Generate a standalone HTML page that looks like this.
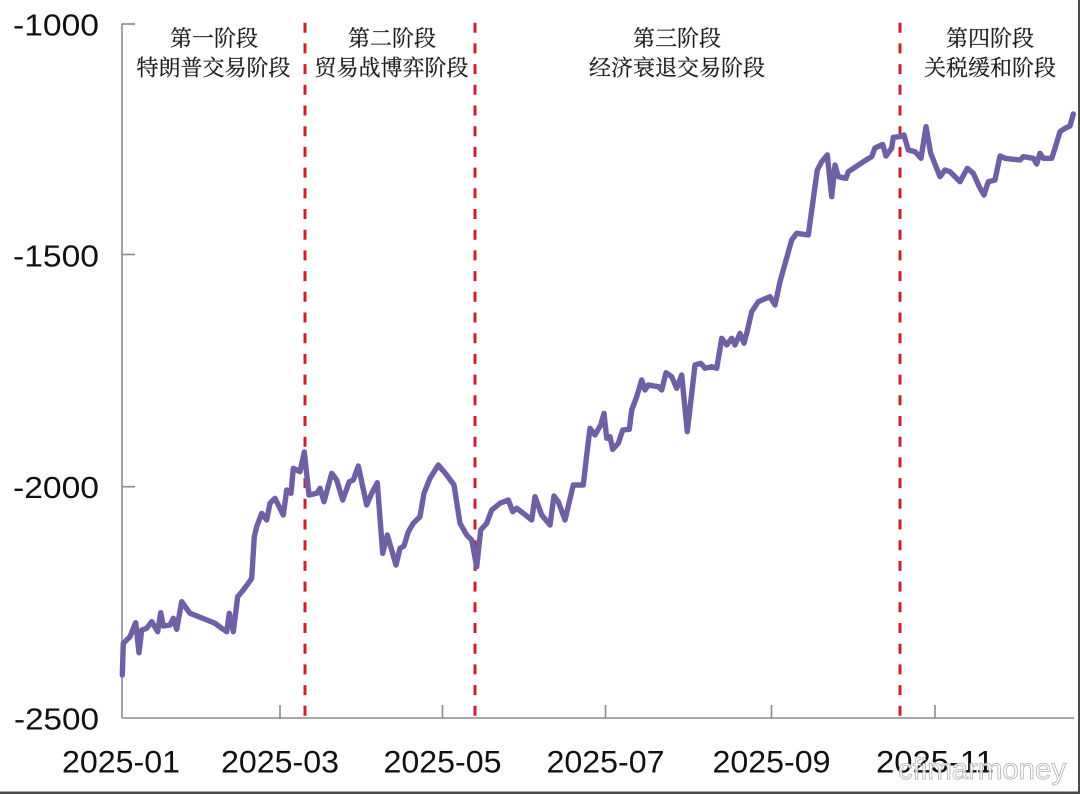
<!DOCTYPE html>
<html>
<head>
<meta charset="utf-8">
<style>
  html,body{margin:0;padding:0;background:#fff;}
  svg{display:block;}
</style>
</head>
<body>
<svg width="1080" height="794" viewBox="0 0 1080 794" xmlns="http://www.w3.org/2000/svg">
  <rect x="0" y="0" width="1080" height="794" fill="#ffffff"/>

  <!-- axes -->
  <g stroke="#8a8a8a" stroke-width="1.6" fill="none">
    <line x1="122" y1="23.5" x2="122" y2="718"/>
    <line x1="122" y1="718" x2="1074" y2="718"/>
    <line x1="122" y1="24" x2="135" y2="24"/>
    <line x1="122" y1="254.5" x2="135" y2="254.5"/>
    <line x1="122" y1="486.7" x2="135" y2="486.7"/>
    <line x1="280" y1="718" x2="280" y2="705"/>
    <line x1="442.5" y1="718" x2="442.5" y2="705"/>
    <line x1="605.5" y1="718" x2="605.5" y2="705"/>
    <line x1="771.5" y1="718" x2="771.5" y2="705"/>
    <line x1="935" y1="718" x2="935" y2="705"/>
  </g>

  <!-- y labels -->
  <g font-family="'Liberation Sans', Arial, sans-serif" font-size="31" fill="#111" text-anchor="end">
    <text x="99" y="35.5" textLength="86" lengthAdjust="spacingAndGlyphs">-1000</text>
    <text x="99" y="266.5" textLength="86" lengthAdjust="spacingAndGlyphs">-1500</text>
    <text x="99" y="498" textLength="86" lengthAdjust="spacingAndGlyphs">-2000</text>
    <text x="99" y="729.5" textLength="85" lengthAdjust="spacingAndGlyphs">-2500</text>
  </g>

  <!-- x labels -->
  <g font-family="'Liberation Sans', Arial, sans-serif" font-size="31.5" fill="#111" text-anchor="middle">
    <text x="121" y="772.5" textLength="118" lengthAdjust="spacingAndGlyphs">2025-01</text>
    <text x="280" y="772.5" textLength="118" lengthAdjust="spacingAndGlyphs">2025-03</text>
    <text x="442.5" y="772.5" textLength="118" lengthAdjust="spacingAndGlyphs">2025-05</text>
    <text x="605.5" y="772.5" textLength="118" lengthAdjust="spacingAndGlyphs">2025-07</text>
    <text x="771.5" y="772.5" textLength="118" lengthAdjust="spacingAndGlyphs">2025-09</text>
    <text x="935" y="772.5" textLength="118" lengthAdjust="spacingAndGlyphs">2025-11</text>
  </g>

  <!-- stage dividers -->
  <g stroke="#c8232c" stroke-width="3" stroke-dasharray="10 10.7" fill="none">
    <line x1="305" y1="22.7" x2="305" y2="718"/>
    <line x1="475" y1="22.7" x2="475" y2="718"/>
    <line x1="900" y1="22.7" x2="900" y2="718"/>
  </g>

  <!-- stage labels -->
  <g font-family="'Liberation Serif', 'Noto Serif CJK SC', serif" font-size="22" fill="#1e1e1e" text-anchor="middle" stroke="#1e1e1e" stroke-width="0.25">
    <text x="214" y="46">第一阶段</text>
    <text x="213.5" y="75.5">特朗普交易阶段</text>
    <text x="392" y="46">第二阶段</text>
    <text x="391.5" y="75.5">贸易战博弈阶段</text>
    <text x="677" y="46">第三阶段</text>
    <text x="677" y="75.5">经济衰退交易阶段</text>
    <text x="990" y="46">第四阶段</text>
    <text x="990" y="75.5">关税缓和阶段</text>
  </g>

  <!-- series -->
  <polyline fill="none" stroke="#6f60a6" stroke-width="5.4" stroke-linejoin="round" stroke-linecap="round"
    points="122.3,675 123.3,643.3 130,636.7 135.7,622.7 139,652.7 141.7,630 146.7,628.3 151.7,621.7 157.7,631.7 160.7,612.7 163.3,626 170,625 173.3,618.3 176.7,629.3 181.7,601.7 190,613.3 215,623.3 221.7,628.3 226.7,631.7 229.3,613.3 233.3,631.7 237.7,596.7 243.3,590 248.3,583.3 251.7,578.3 254.3,536.7 256.7,526.7 261.7,513.3 266.7,520 270,503.3 275,498.3 283.3,515 286.7,490 291,493.3 293.3,468.3 300,471.7 304.3,452 309,495 316.7,493.3 320,488.3 324,501.7 331.7,473.3 336.7,480 342.7,500 349.3,481.7 353.3,480 358.3,466 366.7,505 371.7,493.3 377.3,482.7 382.7,553.3 387.3,535 396,565 400,548.3 404,546 408.3,531.7 413.3,523.3 420,516.7 424,493.3 430,478.3 438.3,465 446.7,475 454,485 460,523.3 466.7,535 471.7,540 476.7,566.7 480.7,530 486.7,523.3 491.7,510 500,503.3 508.3,500 512.7,511.7 516.7,508.3 523.3,513.3 531.7,520 535,496.7 541.7,515 550,525 554,496 558.3,501.7 565,520 573.3,485 583.3,485 586.7,455 590,428.3 595,435 600.7,425 604,413.3 606.7,438.3 610,436.7 612.7,449.3 618.3,443.3 622.7,430 629.3,429.3 631.7,410 636.7,396.7 641.7,380 645,390 648.3,385 658.3,386.7 661.7,390 666,372.7 671.7,376.7 676.7,388.3 681.7,375 687.3,431.7 695,365 700.7,363.3 705,368.3 711.7,366.7 716.7,368.3 721.7,338.3 726.7,345 731.7,338.3 735,345 740,333.3 744,343.3 746.7,333.3 751.7,311.7 758.3,301.7 770,296.7 775,305 780,281.7 791.7,240 796.7,233.3 808.3,235 817.3,170 821.7,161.7 827.3,155 831.7,196.7 835,165 838.3,176.7 846,178.3 848.3,171.7 863.3,161.7 871.7,156.7 875,148 882.7,144.5 886,156 891.7,148 893.3,137.3 899.3,136.7 904,135 908.3,150 915,151.7 921,158.3 926,126.7 930.7,153.3 940,176.7 945,170 950,171.7 960,181.7 967.3,168.3 973.3,173.3 979.3,186.7 984,195 988.3,181.7 995,180 1000,156 1005,158.3 1013.3,159.3 1020,160 1023.3,156.7 1033.3,158.3 1036.7,164 1040,153.3 1043.3,158.3 1051.7,158.3 1055,148.3 1060,131.7 1065,128.3 1070,126 1073.3,114"/>

  <!-- watermark -->
  <text x="898" y="779" font-family="'Liberation Sans', Arial, sans-serif" font-size="30" fill="#ffffff" fill-opacity="0.85" stroke="#b0b0b0" stroke-width="0.8" textLength="168" lengthAdjust="spacingAndGlyphs">cfimarmoney</text>

  <!-- image border edges -->
  <rect x="0" y="791.5" width="1080" height="2.5" fill="#4a4a4a"/>
  <rect x="1078" y="0" width="2" height="794" fill="#4a4a4a"/>
</svg>
</body>
</html>
